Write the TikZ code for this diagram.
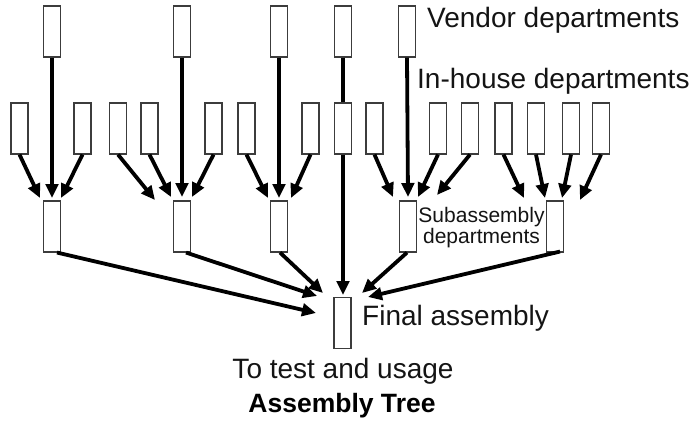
\documentclass[tikz,border=0pt]{standalone}
\usepackage{fontspec}
\setmainfont{Liberation Sans}
\usetikzlibrary{arrows.meta}
\definecolor{boxgray}{HTML}{3C3C3C}
\definecolor{inkblack}{HTML}{141414}
\begin{document}
\begin{tikzpicture}[x=1pt,y=-1pt,
  dept/.style={draw=boxgray, line width=1.1pt, minimum width=17pt, minimum height=51pt, inner sep=0pt, fill=white},
  flow/.style={line width=3.8pt, draw=black, -{Triangle[length=14pt,width=12.5pt]}},
  link/.style={line width=3.8pt, draw=black},
  lbl/.style={font=\fontsize{28}{32}\selectfont, inner sep=0pt, text=inkblack},
  small/.style={font=\fontsize{21}{21}\selectfont, inner sep=0pt, text=inkblack, align=center},
  title/.style={font=\fontsize{26.5}{30}\selectfont\bfseries, inner sep=0pt, text=black}
]
\useasboundingbox (0,0) rectangle (699,421);

% vendor departments
\node[dept] (v1) at (52,31.5) {};
\node[dept] (v2) at (182,31.5) {};
\node[dept] (v3) at (279,31.5) {};
\node[dept] (v4) at (343,31.5) {};
\node[dept] (v5) at (407,31.5) {};

% in-house departments
\node[dept] (h1) at (19.5,128.5) {};
\node[dept] (h2) at (82.5,128.5) {};
\node[dept] (h3) at (118,128.5) {};
\node[dept] (h4) at (149.5,128.5) {};
\node[dept] (h5) at (213.5,128.5) {};
\node[dept] (h6) at (246.5,128.5) {};
\node[dept] (h7) at (310.5,128.5) {};
\node[dept] (h8) at (343,128.5) {};
\node[dept] (h9) at (374.5,128.5) {};
\node[dept] (h10) at (438,128.5) {};
\node[dept] (h11) at (470,128.5) {};
\node[dept] (h12) at (503.5,128.5) {};
\node[dept] (h13) at (536,128.5) {};
\node[dept] (h14) at (571,128.5) {};
\node[dept] (h15) at (601,128.5) {};

% subassembly departments
\node[dept] (s1) at (52,226.5) {};
\node[dept] (s2) at (182,226.5) {};
\node[dept] (s3) at (279,226.5) {};
\node[dept] (s4) at (408,226.5) {};
\node[dept] (s5) at (555,226.5) {};

% final assembly
\node[dept] (fa) at (342.5,323) {};

% arrow tip coordinates
\coordinate (t1a) at (40,198);
\coordinate (t1b) at (52,198);
\coordinate (t1c) at (61,198);
\coordinate (t2a) at (155,200);
\coordinate (t2b) at (171,197);
\coordinate (t2c) at (182,197);
\coordinate (t2d) at (192,197);
\coordinate (t3a) at (268,198);
\coordinate (t3b) at (279,198);
\coordinate (t3c) at (291,198);
\coordinate (t4a) at (393,197);
\coordinate (t4b) at (408,197);
\coordinate (t4c) at (418,197);
\coordinate (t4d) at (437,195);
\coordinate (t5a) at (524,198);
\coordinate (t5b) at (545,198);
\coordinate (t5c) at (562,198);
\coordinate (t5d) at (580,200);
\coordinate (fa1) at (316,313);
\coordinate (fa2) at (317,296);
\coordinate (fa3) at (323,293);
\coordinate (fa4) at (343,295);
\coordinate (fa5) at (362,293);
\coordinate (fa6) at (368,297);

% group 1
\draw[flow] (h1.south) -- (t1a);
\draw[flow] (v1.south) -- (t1b);
\draw[flow] (h2.south) -- (t1c);
% group 2
\draw[flow] (h3.south) -- (t2a);
\draw[flow] (h4.south) -- (t2b);
\draw[flow] (v2.south) -- (t2c);
\draw[flow] (h5.south) -- (t2d);
% group 3
\draw[flow] (h6.south) -- (t3a);
\draw[flow] (v3.south) -- (t3b);
\draw[flow] (h7.south) -- (t3c);
% centre
\draw[link] (v4.south) -- (h8.north);
\draw[flow] (h8.south) -- (fa4);
% group 4
\draw[flow] (h9.south) -- (t4a);
\draw[flow] (v5.south) -- (t4b);
\draw[flow] (h10.south) -- (t4c);
\draw[flow] (h11.south) -- (t4d);
% group 5
\draw[flow] (h12.south) -- (t5a);
\draw[flow] (h13.south) -- (t5b);
\draw[flow] (h14.south) -- (t5c);
\draw[flow] (h15.south) -- (t5d);
% subassemblies to final assembly
\draw[flow] ([xshift=5pt]s1.south) -- (fa1);
\draw[flow] ([xshift=4pt]s2.south) -- (fa2);
\draw[flow] ([xshift=1pt]s3.south) -- (fa3);
\draw[flow] ([xshift=-1pt]s4.south) -- (fa5);
\draw[flow] ([xshift=5pt,yshift=1pt]s5.south) -- (fa6);

% labels
\node[lbl, anchor=base west] (lv) at (427,27) {Vendor departments};
\node[lbl, anchor=base west] (lh) at (417,88) {In-house departments};
\node[small, anchor=north] (ls) at (481.5,207) {Subassembly\\departments};
\node[lbl, anchor=base west] (lf) at (362,325) {Final assembly};
\node[lbl, anchor=base] (lt) at (343,378) {To test and usage};
\node[title, anchor=base] (ltitle) at (342,412) {Assembly Tree};
\end{tikzpicture}
\end{document}
